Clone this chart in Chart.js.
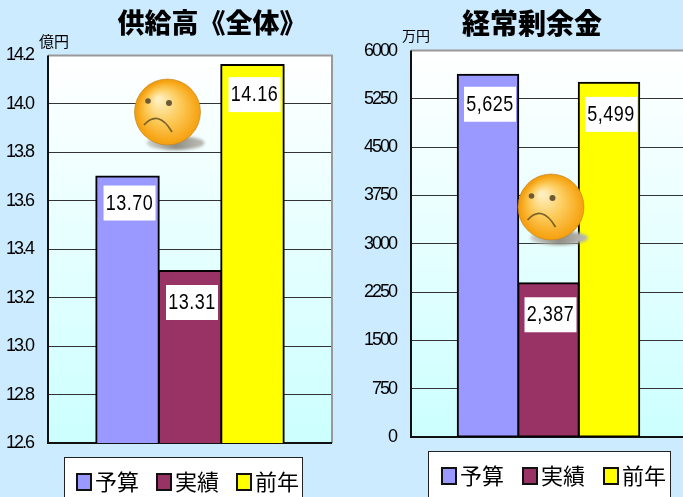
<!DOCTYPE html>
<html><head><meta charset="utf-8">
<script src="https://cdn.jsdelivr.net/npm/chart.js@4/dist/chart.umd.min.js"></script>
<style>
html,body{margin:0;padding:0;width:683px;height:497px;overflow:hidden;background:#CCEBFF}
.w{position:absolute;top:0;height:497px}
canvas{display:block}
</style></head><body>
<div class="w" style="left:0;width:343px"><canvas id="a"></canvas></div>
<div class="w" style="left:343px;width:360px"><canvas id="b"></canvas></div>
<script>
const seriesNames=['予算','実績','前年'];
const seriesColors=['#9999FF','#993366','#FFFF00'];
const supplyValues=[13.70,13.31,14.16];
const profitValues=[5625,2387,5499];
const supplyTicks=[12.6,14.2,0.2];
const profitTicks=[0,6000,750];
const FONT_CJK='"Noto Sans CJK JP"';

function decorPlugin(c){return{
  id:'decor',
  beforeDraw(ch){
    const {ctx,chartArea:a}=ch;
    ctx.save();
    const g=ctx.createLinearGradient(0,a.top,0,a.bottom);
    g.addColorStop(0,'#FFFFFF');g.addColorStop(1,'#CCFFFF');
    ctx.fillStyle=g;ctx.fillRect(a.left,a.top,a.right-a.left,a.bottom-a.top);
    ctx.restore();
    ctx.letterSpacing='-2px';
  },
  afterLayout(ch){
    const t=ch.titleBlock,h=t.bottom-t.top;
    const cx=c.titleX;const w=t.right-t.left;
    t.left=cx-w/2;t.right=cx+w/2;t.top=c.titleY-h/2;t.bottom=c.titleY+h/2;
    if(!t._wrapped){
      const od=t.draw;
      t.draw=function(a){const p=ch.ctx.letterSpacing;ch.ctx.letterSpacing='0px';od.call(this,a);ch.ctx.letterSpacing=p;};
      t._wrapped=true;
    }
  },
  beforeDatasetsDraw(ch){
    const {ctx,chartArea:a}=ch;
    ctx.save();ctx.letterSpacing='0px';
    ctx.strokeStyle='#999999';ctx.lineWidth=2;
    ctx.beginPath();ctx.moveTo(a.left,a.top);ctx.lineTo(a.right,a.top);ctx.lineTo(a.right,a.bottom);ctx.stroke();
    ctx.strokeStyle='#111';
    ctx.beginPath();ctx.moveTo(a.left,a.top);ctx.lineTo(a.left,a.bottom);ctx.lineTo(a.right,a.bottom);ctx.stroke();
    ctx.restore();
  },
  afterDraw(ch){
    const {ctx}=ch;
    ctx.save();ctx.letterSpacing='0px';
    ctx.fillStyle='#000';ctx.font=c.unitSize+'px '+FONT_CJK;ctx.textAlign='left';ctx.textBaseline='middle';
    ctx.fillText(c.unit,c.unitX,c.unitY);
    ch.data.datasets.forEach((d,i)=>{
      const bar=ch.getDatasetMeta(i).data[0];
      const bx=bar.x+2,by=bar.y+c.labelDrop[i];
      ctx.fillStyle='#fff';ctx.fillRect(bx-26,by,52,35);
      ctx.save();
      ctx.translate(bx,by+18);ctx.scale(1,1.25);
      ctx.fillStyle='#000';ctx.font='18px "Liberation Sans"';ctx.letterSpacing='0.5px';ctx.textAlign='center';ctx.textBaseline='middle';
      ctx.fillText(c.fmt(d.data[0]),0,0);
      ctx.restore();
    });
    const L=c.legend;
    ctx.fillStyle='#fff';ctx.fillRect(L.x,L.y,L.w,60);
    ctx.strokeStyle='#222';ctx.lineWidth=1;ctx.strokeRect(L.x+.5,L.y+.5,L.w-1,60);
    ch.data.datasets.forEach((d,i)=>{
      const x=L.first+i*L.pitch;
      ctx.fillStyle=d.backgroundColor;ctx.strokeStyle='#111';ctx.lineWidth=2;
      ctx.fillRect(x,L.boxY,14,16);ctx.strokeRect(x,L.boxY,14,16);
      ctx.fillStyle='#000';ctx.font='22px '+FONT_CJK;ctx.textBaseline='middle';ctx.textAlign='left';
      ctx.fillText(d.label,x+18,L.boxY+8);
    });
    const f=c.face;
    ctx.save();ctx.translate(f.x,f.y);
    ctx.filter='blur(1.5px)';
    const s=ctx.createLinearGradient(-25,0,30,0);
    s.addColorStop(0,'#d8dcd8');s.addColorStop(.6,'#8f8f86');s.addColorStop(1,'#b5b5ae');
    ctx.fillStyle=s;ctx.beginPath();ctx.ellipse(8,31,29,7,0,0,Math.PI*2);ctx.fill();
    ctx.filter='none';
    const r=ctx.createRadialGradient(-9,-13,2,2,2,35);
    r.addColorStop(0,'#FFEFC0');r.addColorStop(.45,'#FCCB5A');r.addColorStop(.85,'#F7A516');r.addColorStop(1,'#EE9A0C');
    ctx.fillStyle=r;ctx.beginPath();ctx.arc(0,0,33,0,Math.PI*2);ctx.fill();
    ctx.strokeStyle='rgba(190,130,30,.6)';ctx.lineWidth=1;ctx.stroke();
    ctx.fillStyle='#6b5a35';
    ctx.beginPath();ctx.arc(-19.5,-11,2.8,0,Math.PI*2);ctx.fill();
    ctx.beginPath();ctx.arc(1.5,-9,3,0,Math.PI*2);ctx.fill();
    ctx.strokeStyle='#7a6228';ctx.lineWidth=1.8;ctx.beginPath();
    ctx.moveTo(-23.5,13);ctx.quadraticCurveTo(-9,-3,4.5,20);ctx.stroke();
    ctx.restore();
    ctx.restore();
  }
};}

function make(id,values,tk,c){
  new Chart(document.getElementById(id),{
    type:'bar',
    data:{labels:[''],datasets:seriesNames.map((n,i)=>({label:n,data:[values[i]],backgroundColor:seriesColors[i],borderColor:'#000',borderWidth:2,borderSkipped:false,inflateAmount:1}))},
    options:{
      responsive:false,animation:false,
      layout:{padding:{left:c.left,right:c.right,top:c.top,bottom:c.bottom}},
      plugins:{
        legend:{display:false},tooltip:{enabled:false},
        title:{display:true,text:c.title,color:'#000',padding:0,font:{family:FONT_CJK,size:c.titleSize,weight:'900',lineHeight:1.2}}
      },
      datasets:{bar:{barPercentage:1,categoryPercentage:.66}},
      scales:{
        x:{display:false},
        y:{min:tk[0],max:tk[1],
          afterFit(s){s.width=c.axisW;},
          afterBuildTicks(s){const t=[];for(let k=0;tk[0]+k*tk[2]<=tk[1]+1e-9;k++)t.push({value:tk[0]+k*tk[2]});s.ticks=t;},
          border:{display:false},
          grid:{color:'#333',lineWidth:1,drawTicks:false},
          ticks:{padding:15,color:'#000',font:{family:'"Liberation Sans"',size:18},autoSkip:false,maxTicksLimit:20,callback:c.tick}
        }
      }
    },
    plugins:[decorPlugin(c)]
  });
}
function size(id,w,h){const e=document.getElementById(id);e.width=w;e.height=h;e.style.width=w+'px';e.style.height=h+'px';}
size('a',343,497);size('b',360,497);
make('a',supplyValues,supplyTicks,{
  title:'供給高《全体》',titleSize:27,titleX:212,titleY:23,
  left:0,right:11,top:23,bottom:54,axisW:48,
  unit:'億円',unitSize:15,unitX:39,unitY:41,
  tick:v=>Number(v).toFixed(1),
  fmt:v=>v.toFixed(2),labelDrop:[9,14,12],
  legend:{x:64,y:457,w:239,first:77,pitch:80,boxY:474},
  face:{x:167.5,y:112}
});
make('b',profitValues,profitTicks,{
  title:'経常剰余金',titleSize:28,titleX:189,titleY:23,
  left:0,right:17,top:17,bottom:60,axisW:68,
  unit:'万円',unitSize:14,unitX:59,unitY:36,
  tick:v=>String(v),
  fmt:v=>v.toLocaleString('en-US'),labelDrop:[12,14,14],
  legend:{x:85,y:451,w:243,first:99,pitch:81,boxY:468},
  face:{x:208,y:207}
});
</script>
</body></html>
